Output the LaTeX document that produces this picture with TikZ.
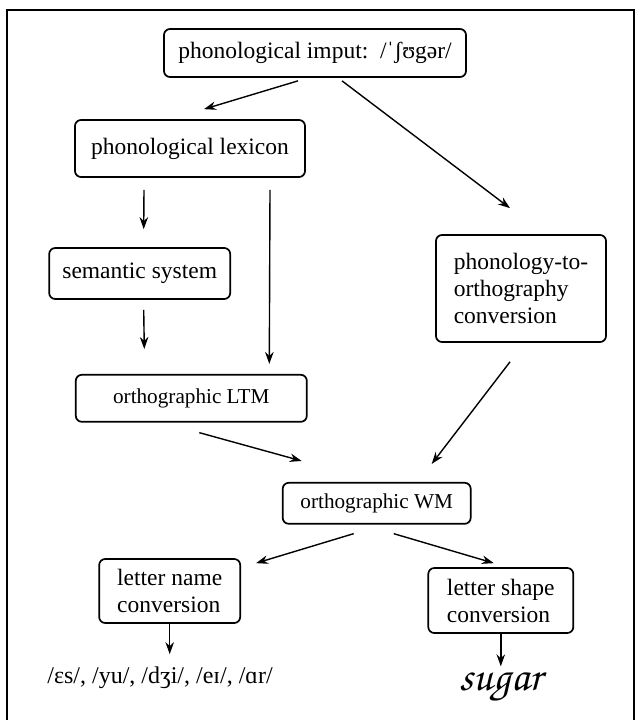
\documentclass[tikz,border=0pt]{standalone}
\usepackage[T1]{fontenc}
\usepackage{fontspec}
\setmainfont{Liberation Serif}
\usetikzlibrary{arrows.meta}
\tikzset{
	stage/.style={
		draw,
		rounded corners=6pt,
		line width=1.7pt,
		align=center,
		inner sep=0pt,
		font=\fontsize{23.5}{27}\selectfont
	},
	smallstage/.style={
		stage,
		font=\fontsize{21.2}{25}\selectfont
	},
	flow/.style={
		-{Stealth[length=12pt,width=8.5pt]},
		line width=1.4pt
	},
	frame/.style={
		line width=2pt
	}
}
\newcommand{\scriptword}[1]{{\usefont{T1}{pzc}{mb}{it}#1}}

\begin{document}
\begin{tikzpicture}[x=1pt,y=-1pt]

	\useasboundingbox (0,0) rectangle (642,720);
	\draw[frame] (7,724) |- (634,10) -- (634,724);

	%% Stages
	\node[stage, minimum width=302pt, minimum height=48pt] (input) at (315,53) {phonological imput:\ \ /ˈʃʊgər/};
	\node[stage, minimum width=230pt, minimum height=57pt] (lexicon) at (190,148.5) {phonological lexicon};
	\node[stage, minimum width=181pt, minimum height=51pt] (semantic) at (139.7,273.5) {semantic system};
	\node[stage, align=left, minimum width=170pt, minimum height=107pt] (ptoo) at (521,288.5) {phonology-to-\\orthography\\conversion};
	\node[smallstage, minimum width=231pt, minimum height=47pt] (ltm) at (191.3,398.3) {orthographic LTM};
	\node[smallstage, minimum width=188pt, minimum height=41pt] (wm) at (376.7,503.3) {orthographic WM};
	\node[stage, align=left, minimum width=141pt, minimum height=64pt] (lname) at (169.7,591) {letter name\\conversion};
	\node[stage, align=left, minimum width=145pt, minimum height=65pt] (lshape) at (500.8,600.5) {letter shape\\conversion};

	% Outputs
	\node[anchor=base, inner sep=0pt, font=\fontsize{24}{28}\selectfont] (names) at (160,683) {/ɛs/, /yu/, /dʒi/, /eɪ/, /ɑr/};
	\node[anchor=base, inner sep=0pt, font=\fontsize{43}{47}\selectfont] (word) at (501,690) {\scriptword{sugar}};

	%% Connections
	\draw[flow] ([xshift=-17pt,yshift=-3pt]input.south) -- ([xshift=14pt,yshift=10pt]lexicon.north);
	\draw[flow] ([xshift=27pt,yshift=-3pt]input.south) -- ([xshift=-11pt,yshift=26pt]ptoo.north);
	\draw[flow] ([xshift=-46pt,yshift=-12pt]lexicon.south) -- ([xshift=4pt,yshift=18pt]semantic.north);
	\draw[flow] ([xshift=80pt,yshift=-12pt]lexicon.south) -- ([xshift=78pt,yshift=10pt]ltm.north);
	\draw[flow] ([xshift=4pt,yshift=-10pt]semantic.south) -- ([xshift=-47pt,yshift=25pt]ltm.north);
	\draw[flow] ([xshift=8pt,yshift=-10pt]ltm.south) -- ([xshift=-75pt,yshift=21pt]wm.north);
	\draw[flow] ([xshift=-11pt,yshift=-19pt]ptoo.south) -- ([xshift=55pt,yshift=18pt]wm.north);
	\draw[flow] ([xshift=-23pt,yshift=-9pt]wm.south) -- ([xshift=15pt,yshift=-5pt]lname.north east);
	\draw[flow] ([xshift=17pt,yshift=-9pt]wm.south) -- ([xshift=-7pt,yshift=4pt]lshape.north);
	\draw[flow, shorten >=12pt] (lname) -- (lname |- names.north);
	\draw[flow, shorten >=5pt] (lshape) -- (lshape |- word.north);

\end{tikzpicture}
\end{document}
